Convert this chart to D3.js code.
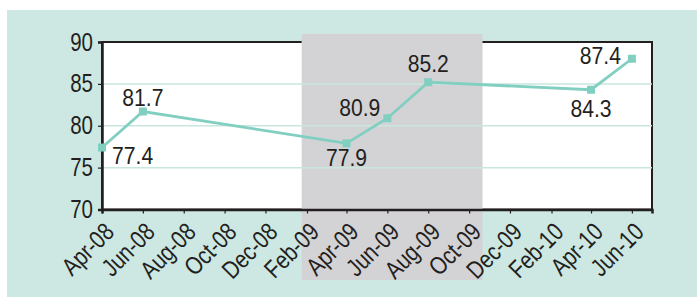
<!DOCTYPE html>
<html><head><meta charset="utf-8">
<script src="https://cdn.jsdelivr.net/npm/d3@7"></script>
<style>
html,body{margin:0;padding:0;background:#fff;}
svg{display:block;}
</style></head>
<body>
<svg id="chart" width="697" height="297"></svg>
<script>
// ---- data ----
const dates = ["Apr-08","Jun-08","Apr-09","Jun-09","Aug-09","Apr-10","Jun-10"];
const values = [77.4, 81.7, 77.9, 80.9, 85.2, 84.3, 88.0];
const labels = ["77.4","81.7","77.9","80.9","85.2","84.3","87.4"];
const tickLabels = ["Apr-08","Jun-08","Aug-08","Oct-08","Dec-08","Feb-09","Apr-09","Jun-09","Aug-09","Oct-09","Dec-09","Feb-10","Apr-10","Jun-10"];
const yTicks = [70, 75, 80, 85, 90];
const band = ["2009-01-24", "2009-10-21"];
const domainDates = ["2008-04-01", "2010-07-01"];

// ---- setup ----
const parseM = d3.timeParse("%b-%y");
const parseD = d3.timeParse("%Y-%m-%d");
const svg = d3.select("#chart");
const W = 697, H = 297;
const plot = {left: 102, right: 652, top: 42, bottom: 209.5};
const ink = "#231f20", teal = "#80cfc0", bg = "#cde8e2", grid = "#c9e6df", grey = "#d3d3d5";
const font = "'Liberation Sans',Arial,Helvetica,sans-serif";
const tickSx = 0.82, labelSx = 0.92;

const x = d3.scaleTime().domain(domainDates.map(parseD)).range([plot.left, plot.right]);
const y = d3.scaleLinear().domain([70, 90]).range([plot.bottom, plot.top]);

// background panel
svg.append("rect").attr("x", 7).attr("y", 10).attr("width", W - 7).attr("height", H - 10).attr("fill", bg);

// plot area
svg.append("rect").attr("x", plot.left).attr("y", plot.top)
  .attr("width", plot.right - plot.left).attr("height", plot.bottom - plot.top)
  .attr("fill", "#fff").attr("stroke", ink).attr("stroke-width", 2);

// grey band
svg.append("rect")
  .attr("x", x(parseD(band[0]))).attr("y", 34)
  .attr("width", x(parseD(band[1])) - x(parseD(band[0])))
  .attr("height", 280 - 34).attr("fill", grey);

// gridlines
svg.append("g").selectAll("line").data(yTicks.filter(v => v > 70 && v < 90)).join("line")
  .attr("x1", plot.left).attr("x2", plot.right)
  .attr("y1", d => y(d)).attr("y2", d => y(d))
  .attr("stroke", grid).attr("stroke-width", 1.5);

// y axis
const yAxis = svg.append("g").attr("transform", `translate(${plot.left},0)`)
  .call(d3.axisLeft(y).tickValues(yTicks).tickSize(4).tickPadding(5).tickFormat(d3.format("d")));
yAxis.select(".domain").attr("stroke", ink).attr("stroke-width", 2.5);
yAxis.selectAll(".tick line").attr("stroke", ink).attr("stroke-width", 1.2);
yAxis.selectAll(".tick text").attr("fill", ink).style("font-family", font).style("font-size", "25px")
  .attr("x", -9 / tickSx).attr("transform", `scale(${tickSx},1)`);

// x axis
const xAxis = svg.append("g").attr("transform", `translate(0,${plot.bottom})`)
  .call(d3.axisBottom(x).tickValues(tickLabels.map(parseM)).tickSize(4).tickFormat(d3.timeFormat("%b-%y")));
xAxis.select(".domain").attr("stroke", ink).attr("stroke-width", 2.5);
xAxis.selectAll(".tick line").attr("stroke", ink).attr("stroke-width", 1.2);
xAxis.selectAll(".tick text")
  .attr("fill", ink).style("font-family", font).style("font-size", "25px")
  .attr("text-anchor", "end").attr("dy", null).attr("y", null)
  .attr("transform", `translate(13,24) rotate(-45) scale(${tickSx},1)`);

// line
const pts = dates.map((d, i) => ({x: x(parseM(d)), y: y(values[i]), label: labels[i]}));
svg.append("path").datum(pts)
  .attr("d", d3.line().x(d => d.x).y(d => d.y))
  .attr("fill", "none").attr("stroke", teal).attr("stroke-width", 2.8);
svg.append("g").selectAll("rect").data(pts).join("rect")
  .attr("x", d => d.x - 4).attr("y", d => d.y - 4).attr("width", 8).attr("height", 8)
  .attr("fill", teal);

// data labels: placement [dx, dy, anchor]
const place = [[10, 16, "start"], [0, -6, "middle"], [0, 23, "middle"], [-7, -2, "end"], [0, -10, "middle"], [0, 27, "middle"], [-11, 5, "end"]];
svg.append("g").selectAll("text").data(pts).join("text")
  .attr("x", (d, i) => (d.x + place[i][0]) / labelSx).attr("y", (d, i) => d.y + place[i][1])
  .attr("transform", `scale(${labelSx},1)`)
  .attr("text-anchor", (d, i) => place[i][2])
  .attr("fill", ink).style("font-family", font).style("font-size", "23px")
  .text(d => d.label);
</script>
</body></html>
